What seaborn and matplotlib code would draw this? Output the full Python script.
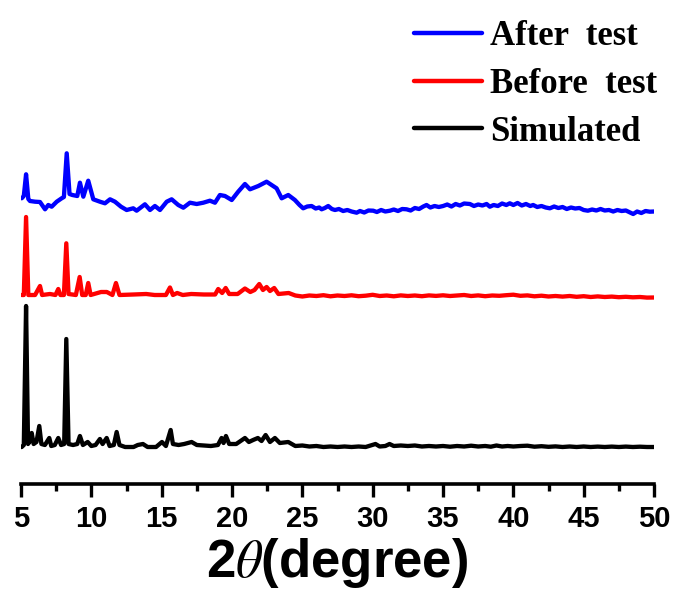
import matplotlib
matplotlib.use("Agg")
import matplotlib.pyplot as plt
import seaborn as sns
import pandas as pd
import numpy as np
from matplotlib.ticker import MultipleLocator

# ---------------- data ----------------
sim_x = [5.0, 5.05, 5.2, 5.36, 5.5, 5.6, 5.76, 5.9, 6.1, 6.3, 6.45, 6.7, 7.01, 7.15, 7.4, 7.65, 7.85,
         8.07, 8.22, 8.38, 8.7, 9.0, 9.19, 9.4, 9.74, 10.0, 10.3, 10.61, 10.8, 11.09, 11.3, 11.6, 11.8,
         12.0, 12.4, 13.0, 13.3, 13.67, 14.0, 14.6, 15.02, 15.3, 15.64, 15.8, 16.2, 16.6, 17.13, 17.5,
         18.5, 19.0, 19.26, 19.4, 19.57, 19.8, 20.3, 20.92, 21.2, 21.5, 21.84, 22.1, 22.39, 22.7, 23.05,
         23.4, 24.0, 24.5, 25.0, 25.5, 26.0, 26.5, 27.0, 27.5, 28.0, 28.5, 29.0, 29.5, 30.2, 30.5, 30.9,
         31.2, 31.5, 32.0, 32.5, 33.0, 33.5, 34.0, 34.5, 35.0, 35.5, 36.0, 36.5, 37.0, 37.5, 38.0, 38.4,
         38.8, 39.2, 39.6, 40.0, 40.5, 41.0, 41.5, 42.0, 42.5, 43.0, 43.5, 44.0, 44.5, 45.0, 45.5, 46.0,
         46.5, 47.0, 47.5, 48.0, 48.5, 49.0, 49.5, 50.0]
sim_y = [0, 0, 2, 141, 3, 5, 14, 3, 5, 21, 3, 2, 9, 1, 2, 9, 2,
         3, 108, 3, 2, 3, 11, 2, 5, 1, 2, 8, 3, 9, 1, 2, 15,
         2, 0, 0, 2, 3, 0, 0, 5, 1, 17, 3, 2, 3, 5, 2,
         1, 2, 9, 4, 11, 3, 3, 9, 5, 7, 9, 6, 12, 5, 9,
         4, 5, 1, 1.5, 0.5, 1, 0, 0.5, 0, 0.5, 0, 0.5, 0, 3, 0.5, 1,
         3, 1, 1.5, 1, 1.5, 0.5, 1, 0.5, 1, 0.3, 1, 0.5, 1.3, 0.5, 1, 0.3,
         1.5, 0.5, 1, 0.5, 1, 1.3, 0.3, 0.8, 0.2, 0.6, 0, 0.5, 0, 0.5, 0, 0.4,
         0, 0.4, 0, 0.4, 0, 0.3, 0, 0]

before_x = [5.05, 5.2, 5.36, 5.52, 6.0, 6.35, 6.5, 7.06, 7.45, 7.65, 7.8, 8.05, 8.22, 8.38, 8.9, 9.17,
            9.35, 9.6, 9.78, 9.95, 10.69, 11.1, 11.5, 11.75, 12.0, 13.0, 13.9, 14.5, 15.3, 15.59, 15.8,
            16.1, 16.5, 17.1, 18.0, 18.8, 19.02, 19.3, 19.55, 19.8, 20.4, 20.92, 21.3, 21.6, 21.94, 22.2,
            22.46, 22.7, 23.0, 23.3, 24.03, 24.5, 25.0, 25.5, 26.0, 26.5, 27.0, 27.5, 28.0, 28.5, 29.0,
            29.5, 30.0, 30.5, 31.0, 31.5, 32.0, 32.5, 33.0, 33.5, 34.0, 34.5, 35.0, 35.5, 36.0, 36.5,
            37.0, 37.5, 38.0, 38.5, 39.0, 39.5, 40.0, 40.5, 41.0, 41.5, 42.0, 42.5, 43.0, 43.5, 44.0,
            44.5, 45.0, 45.5, 46.0, 46.5, 47.0, 47.5, 48.0, 48.5, 49.0, 49.5, 50.0]
before_y = [1, 1, 79, 1, 1, 10, 1, 2, 1, 7, 1, 1, 52.7, 2, 1, 19,
            1, 1, 13, 1, 4, 4, 1, 13, 1, 1.5, 2, 1, 1, 8.5, 1,
            3, 1, 2, 1.5, 1.5, 7, 3, 8, 2, 2, 7.5, 4, 6, 12, 6,
            9, 5, 8, 2, 3, 0.5, -0.5, 0.5, 0, 0.8, -0.3, 0.5, 0, 0.7, -0.2,
            0.3, 1.2, 0, 0.5, -0.3, 0.6, 0, 0.5, -0.2, 0.6, 0.1, 0.7, 0, 0.5, 1,
            0, 0.6, -0.2, 0.5, 0.2, 0.8, 1.3, 0.2, 0.6, -0.3, 0.3, -0.5, 0, -0.6, 0,
            -0.8, -0.2, -1, -0.4, -1, -0.6, -1.2, -0.8, -1.3, -1, -1.6, -1.5]

after_x = [5.05, 5.2, 5.36, 5.52, 5.64, 6.0, 6.35, 6.71, 6.94, 7.18, 7.54, 7.89, 8.05, 8.25, 8.45,
           8.65, 9.0, 9.19, 9.43, 9.78, 10.14, 10.61, 10.97, 11.33, 11.68, 12.11, 12.51, 12.98, 13.22,
           13.81, 14.17, 14.52, 14.88, 15.36, 15.71, 16.18, 16.54, 17.01, 17.49, 17.96, 18.43, 18.79,
           19.14, 19.5, 19.98, 20.44, 20.92, 21.28, 21.87, 22.46, 22.82, 23.17, 23.53, 24.0, 24.47,
           24.8, 25.06, 25.35, 25.66, 25.95, 26.2, 26.37, 26.6, 26.84, 27.1, 27.32, 27.6, 27.9, 28.2,
           28.5, 28.86, 29.1, 29.4, 29.7, 30.04, 30.3, 30.6, 30.9, 31.23, 31.5, 31.8, 32.1, 32.41,
           32.7, 33.0, 33.3, 33.6, 33.83, 34.1, 34.4, 34.7, 35.01, 35.3, 35.6, 35.9, 36.2, 36.5,
           36.91, 37.2, 37.5, 37.8, 38.1, 38.33, 38.6, 38.9, 39.2, 39.5, 39.75, 40.0, 40.3, 40.6,
           40.9, 41.2, 41.41, 41.7, 42.0, 42.3, 42.6, 42.9, 43.2, 43.5, 43.8, 44.1, 44.4, 44.7,
           45.0, 45.3, 45.6, 45.9, 46.2, 46.5, 46.8, 47.1, 47.4, 47.7, 48.0, 48.3, 48.52, 48.8,
           49.1, 49.4, 49.7, 50.0]
after_y = [13.7, 16, 37.7, 13, 11, 10.3, 10, 2.7, 7, 5.3, 10.3, 13.7, 15, 58.7, 18,
           17, 16, 29.3, 15.3, 31.3, 12.7, 10.3, 8.7, 12.7, 10.3, 5.3, 2, 3.7, 1.3,
           7.7, 2, 6, 2, 10.3, 12.7, 7, 4.3, 9.3, 8, 9.3, 11.3, 9.3,
           17, 16, 12, 20.3, 28, 22.7, 26, 30.3, 27, 23.7, 13.7, 17, 12,
           7, 3.7, 5.5, 6, 3.5, 4.5, 2.7, 4, 6, 3, 2, 3, 1, 2,
           0.5, -0.7, 1, -0.5, 1.5, 1.3, 0, 2, 0.5, 1.3, 2.5, 1, 3, 2.7,
           1.5, 4, 3, 5.5, 7, 4.5, 6, 5, 6, 7.5, 5.5, 8, 6.5, 8.5,
           8, 6, 7.5, 6.5, 8, 5.3, 7, 6, 8.5, 7, 8.7, 7, 9, 6.5,
           8, 6, 7, 5, 6, 4.5, 3.7, 5.5, 4, 5, 3, 4.5, 3.5, 4,
           2, 1.3, 2.5, 1.5, 3, 1.5, 2, 0.5, 2, 1, 1.5, -0.5, -2, 0.5,
           -1, 1, 0.3, 0.5]

labels = ["After  test", "Before  test", "Simulated"]
offsets = {"After  test": 235, "Before  test": 151, "Simulated": 0}
colors = {"After  test": "#0000FF", "Before  test": "#FF0000", "Simulated": "#000000"}

series = {
    "After  test": (after_x, after_y),
    "Before  test": (before_x, before_y),
    "Simulated": (sim_x, sim_y),
}

# ---------------- style ----------------
sns.set_style("white")
plt.rcParams["mathtext.fontset"] = "stix"
plt.rcParams["text.color"] = "black"
plt.rcParams["axes.labelcolor"] = "black"
plt.rcParams["xtick.color"] = "black"

fig = plt.figure(figsize=(6.75, 5.94), dpi=100)
ax = fig.add_axes([21 / 675, 110 / 594, 633 / 675, 484 / 594])

frames = []
for name in labels:
    xs, ys = series[name]
    frames.append(pd.DataFrame({"two_theta": xs,
                                "intensity": np.asarray(ys, float) + offsets[name],
                                "sample": name}))
df = pd.concat(frames, ignore_index=True)

sns.lineplot(data=df, x="two_theta", y="intensity", hue="sample", hue_order=labels,
             palette=colors, estimator=None, sort=False, linewidth=3.1, ax=ax,
             solid_joinstyle="round", solid_capstyle="round")

ax.set_xlim(5, 50)
ax.set_ylim(-37, 447)

for s in ["left", "top", "right"]:
    ax.spines[s].set_visible(False)
ax.spines["bottom"].set_linewidth(2.6)
ax.spines["bottom"].set_color("black")

ax.xaxis.set_major_locator(MultipleLocator(5))
ax.xaxis.set_minor_locator(MultipleLocator(2.5))
ax.tick_params(axis="x", which="major", direction="out", length=9, width=2.4,
               colors="black", labelcolor="black", pad=6, bottom=True)
ax.tick_params(axis="x", which="minor", direction="out", length=5, width=2.4,
               colors="black", bottom=True)
ax.set_yticks([])
ax.set_ylabel("")

tick_font = ["Liberation Sans Narrow", "Liberation Sans", "DejaVu Sans"]
for lab in ax.get_xticklabels():
    lab.set_fontfamily(tick_font)
    lab.set_fontweight("bold")
    lab.set_fontsize(21)
    lab.set_color("black")

ax.set_xlabel(r"2$\theta$(degree)", fontsize=38, fontweight="bold",
              family=tick_font, labelpad=2, color="black")

leg = ax.legend(loc="upper right", bbox_to_anchor=(1.032, 0.995), frameon=False,
                handlelength=1.95, handletextpad=0.22, labelspacing=0.43,
                borderaxespad=0.1,
                prop={"family": ["Liberation Serif", "DejaVu Serif"], "weight": "bold", "size": 25})
for line in leg.get_lines():
    line.set_linewidth(3.2)
for t in leg.get_texts():
    t.set_color("black")

fig.savefig("out.png", dpi=100)
